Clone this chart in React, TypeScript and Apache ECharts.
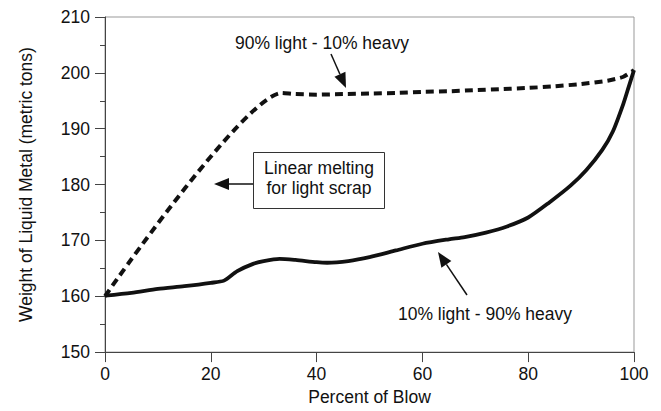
import React, { useEffect, useRef } from "react";
import * as echarts from "echarts";

const lightX = [0, 33.5, 36, 40, 45, 50, 55, 60, 65, 70, 75, 80, 85, 90, 95, 98, 100];
const lightY = [160, 196.4, 196.2, 196.1, 196.2, 196.3, 196.4, 196.6, 196.7, 196.9, 197.1, 197.3, 197.6, 198.0, 198.6, 199.3, 200.5];

const heavyX = [0, 5, 10, 15, 20, 22.5, 25, 28, 30, 33, 36, 40, 42, 46, 50, 55, 60, 65, 68, 72, 76, 80, 84, 88, 91, 94, 96, 98, 99, 100];
const heavyY = [160.1, 160.6, 161.3, 161.8, 162.4, 162.8, 164.5, 165.8, 166.3, 166.7, 166.5, 166.1, 166.0, 166.3, 167.0, 168.2, 169.4, 170.2, 170.6, 171.4, 172.5, 174.1, 176.8, 179.8, 182.6, 186.2, 189.5, 194.5, 197.5, 200.5];

const xTicks = { min: 0, max: 100, interval: 20 };
const yTicks = { min: 150, max: 210, interval: 10 };

const FONT = "'Liberation Sans', Arial, Helvetica, sans-serif";
const FS = 17.5;

function arrow(x1: number, y1: number, x2: number, y2: number, headLen = 15, headW = 6) {
  const dx = x2 - x1;
  const dy = y2 - y1;
  const len = Math.sqrt(dx * dx + dy * dy);
  const ux = dx / len;
  const uy = dy / len;
  const bx = x2 - ux * headLen;
  const by = y2 - uy * headLen;
  const px = -uy;
  const py = ux;
  return [
    {
      type: "line",
      shape: { x1, y1, x2: bx, y2: by },
      style: { stroke: "#111", lineWidth: 1.5 },
      silent: true,
    },
    {
      type: "polygon",
      shape: {
        points: [
          [x2, y2],
          [bx + px * headW, by + py * headW],
          [bx - px * headW, by - py * headW],
        ],
      },
      style: { fill: "#111" },
      silent: true,
    },
  ];
}

export default function App() {
  const ref = useRef<HTMLDivElement>(null);
  useEffect(() => {
    if (!ref.current) return;
    const chart = echarts.init(ref.current, null, { renderer: "svg" });
    const light = lightX.map((x, i) => [x, lightY[i]]);
    const heavy = heavyX.map((x, i) => [x, heavyY[i]]);
    const textStyle = { fontFamily: FONT, fontSize: FS, fill: "#111" };
    chart.setOption({
      animation: false,
      backgroundColor: "#fff",
      textStyle: { fontFamily: FONT },
      grid: {
        left: 105,
        right: 27,
        top: 17,
        bottom: 58,
        show: true,
        borderColor: "#999",
        borderWidth: 1,
      },
      xAxis: {
        type: "value",
        min: xTicks.min,
        max: xTicks.max,
        interval: xTicks.interval,
        name: "Percent of Blow",
        nameLocation: "middle",
        nameGap: 35,
        nameTextStyle: { fontSize: FS, color: "#111", fontFamily: FONT },
        axisLine: { show: true, lineStyle: { color: "#444", width: 1 } },
        axisTick: { show: true, length: 10, lineStyle: { color: "#444" } },
        axisLabel: { fontSize: FS, color: "#111", margin: 13, fontFamily: FONT },
        splitLine: { show: false },
      },
      yAxis: {
        type: "value",
        min: yTicks.min,
        max: yTicks.max,
        interval: yTicks.interval,
        name: "Weight of Liquid Metal (metric tons)",
        nameLocation: "middle",
        nameGap: 70,
        nameTextStyle: { fontSize: FS, color: "#111", fontFamily: FONT },
        axisLine: { show: true, lineStyle: { color: "#444", width: 1 } },
        axisTick: { show: true, length: 10, lineStyle: { color: "#444" } },
        minorTick: { show: true, splitNumber: 2, length: 5, lineStyle: { color: "#444" } },
        axisLabel: { fontSize: FS, color: "#111", margin: 15, fontFamily: FONT },
        splitLine: { show: false },
      },
      series: [
        {
          name: "90% light - 10% heavy",
          type: "line",
          data: light,
          showSymbol: false,
          smooth: 0.2,
          lineStyle: { color: "#111", width: 4, type: [8, 5], cap: "butt" },
        },
        {
          name: "10% light - 90% heavy",
          type: "line",
          data: heavy,
          showSymbol: false,
          smooth: 0.25,
          lineStyle: { color: "#111", width: 3.8 },
        },
      ],
      graphic: [
        {
          type: "text",
          x: 322,
          y: 43,
          style: { ...textStyle, text: "90% light - 10% heavy", align: "center", verticalAlign: "middle" },
        },
        ...arrow(331, 54, 346, 88),
        {
          type: "rect",
          shape: { x: 253.5, y: 152.5, width: 131, height: 56 },
          style: { fill: "#fff", stroke: "#333", lineWidth: 1 },
        },
        {
          type: "text",
          x: 319,
          y: 168,
          style: { ...textStyle, text: "Linear melting", align: "center", verticalAlign: "middle" },
        },
        {
          type: "text",
          x: 319,
          y: 188,
          style: { ...textStyle, text: "for light scrap", align: "center", verticalAlign: "middle" },
        },
        ...arrow(253, 184, 214, 184),
        ...arrow(467, 295, 438, 252),
        {
          type: "text",
          x: 485,
          y: 314,
          style: { ...textStyle, text: "10% light - 90% heavy", align: "center", verticalAlign: "middle" },
        },
      ],
    });
    return () => chart.dispose();
  }, []);
  return <div ref={ref} style={{ width: 661, height: 411, position: "fixed", left: 0, top: 0 }} />;
}
